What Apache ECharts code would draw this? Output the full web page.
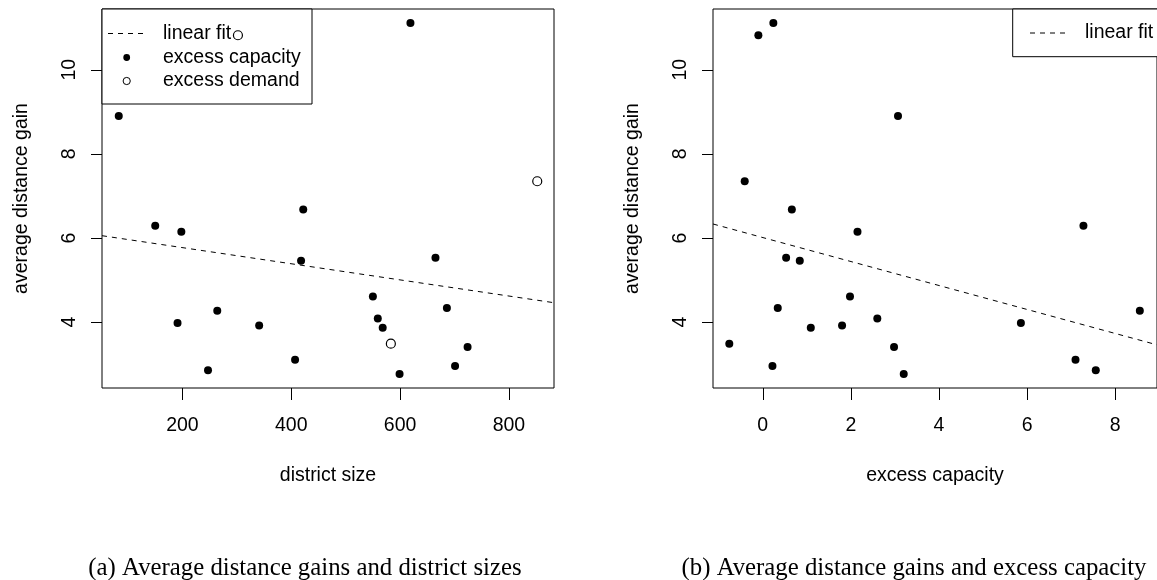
<!DOCTYPE html>
<html>
<head>
<meta charset="utf-8">
<script src="https://cdn.jsdelivr.net/npm/echarts@6/dist/echarts.min.js"></script>
<style>
html,body{margin:0;padding:0;background:#fff;}
#chart{width:1157px;height:580px;}
</style>
</head>
<body>
<div id="chart"></div>
<script>
// ---- data (one entry per district) ----
var districtSize   = [83, 619, 150, 198, 422, 418, 665, 550, 686, 264, 191, 341, 559, 568, 724, 407, 701, 247, 599, 583, 852, 302];
var excessCapacity = [3.07, 0.24, 7.28, 2.15, 0.66, 0.84, 0.53, 1.98, 0.34, 8.56, 5.86, 1.80, 2.60, 1.09, 2.98, 7.10, 0.22, 7.56, 3.20, -0.76, -0.41, -0.10];
var avgGain        = [8.90, 11.11, 6.29, 6.15, 6.68, 5.46, 5.53, 4.61, 4.34, 4.27, 3.98, 3.92, 4.09, 3.87, 3.41, 3.11, 2.96, 2.86, 2.77, 3.49, 7.35, 10.82];
var districtType   = ['cap','cap','cap','cap','cap','cap','cap','cap','cap','cap','cap','cap','cap','cap','cap','cap','cap','cap','cap','dem','dem','dem'];

// linear fit lines (end points)
var fitSize     = [52.2, 882.8];
var fitSizeGain = [6.056, 4.463];
var fitCap      = [-1.13, 8.95];
var fitCapGain  = [6.334, 3.462];

// tick labels
var sizeTicks = [200, 400, 600, 800];
var capTicks  = [0, 2, 4, 6, 8];
var gainTicks = [4, 6, 8, 10];

var captionA = '(a) Average distance gains and district sizes';
var captionB = '(b) Average distance gains and excess capacity';

// ---- build ----
var capPts = [], demPts = [], allPts = [];
for (var i = 0; i < districtSize.length; i++) {
  if (districtType[i] === 'cap') capPts.push([districtSize[i], avgGain[i]]);
  else demPts.push([districtSize[i], avgGain[i]]);
  allPts.push([excessCapacity[i], avgGain[i]]);
}
var fitA = [[fitSize[0], fitSizeGain[0]], [fitSize[1], fitSizeGain[1]]];
var fitB = [[fitCap[0], fitCapGain[0]], [fitCap[1], fitCapGain[1]]];

var FONT = 'Liberation Sans';
var FS = 19.5;

function xAxisCfg(gi, min, max, ticks, name) {
  return {
    type: 'value', gridIndex: gi, min: min, max: max,
    name: name, nameLocation: 'middle', nameGap: 78,
    nameTextStyle: {fontFamily: FONT, fontSize: FS, color: '#000'},
    axisLine: {show: false, onZero: false},
    axisTick: {show: true, length: 12, customValues: ticks, lineStyle: {color: '#000', width: 1}},
    axisLabel: {customValues: ticks, fontFamily: FONT, fontSize: FS, color: '#000', margin: 28},
    splitLine: {show: false}
  };
}
function yAxisCfg(gi) {
  return {
    type: 'value', gridIndex: gi, min: 2.436, max: 11.444,
    name: 'average distance gain', nameLocation: 'middle', nameGap: 70,
    nameTextStyle: {fontFamily: FONT, fontSize: FS, color: '#000'},
    axisLine: {show: false, onZero: false},
    axisTick: {show: true, length: 11, customValues: gainTicks, lineStyle: {color: '#000', width: 1}},
    axisLabel: {customValues: gainTicks, rotate: 90, fontFamily: FONT, fontSize: FS, color: '#000', margin: 22},
    splitLine: {show: false}
  };
}

var chart = echarts.init(document.getElementById('chart'), null, {renderer: 'canvas'});
var option = {
  animation: false,
  backgroundColor: '#fff',
  grid: [
    {left: 102, top: 9, width: 452, height: 379, show: true, borderColor: '#000', borderWidth: 1, backgroundColor: 'transparent'},
    {left: 713, top: 9, width: 452, height: 379, show: true, borderColor: '#000', borderWidth: 1, backgroundColor: 'transparent'}
  ],
  xAxis: [
    xAxisCfg(0, 52.2, 882.8, sizeTicks, 'district size'),
    xAxisCfg(1, -1.13, 8.95, capTicks, 'excess capacity')
  ],
  yAxis: [yAxisCfg(0), yAxisCfg(1)],
  graphic: [
    // legend (a)
    {type: 'rect', z: 1, shape: {x: 102, y: 9, width: 210, height: 95}, style: {fill: '#fff', stroke: '#000', lineWidth: 1}},
    {type: 'line', z: 1, shape: {x1: 108, y1: 33.5, x2: 144, y2: 33.5}, style: {stroke: '#000', lineWidth: 1, lineDash: [5, 5]}},
    {type: 'circle', z: 1, shape: {cx: 126.7, cy: 57.5, r: 3.4}, style: {fill: '#000'}},
    {type: 'circle', z: 1, shape: {cx: 126.7, cy: 81, r: 3.6}, style: {fill: 'none', stroke: '#000', lineWidth: 1}},
    {type: 'text', z: 1, x: 163, y: 33.5, style: {text: 'linear fit', font: FS + 'px ' + FONT, fill: '#000', verticalAlign: 'middle'}},
    {type: 'text', z: 1, x: 163, y: 57.5, style: {text: 'excess capacity', font: FS + 'px ' + FONT, fill: '#000', verticalAlign: 'middle'}},
    {type: 'text', z: 1, x: 163, y: 81, style: {text: 'excess demand', font: FS + 'px ' + FONT, fill: '#000', verticalAlign: 'middle'}},
    // legend (b)
    {type: 'rect', z: 1, shape: {x: 1012.7, y: 9, width: 220, height: 47.7}, style: {fill: '#fff', stroke: '#000', lineWidth: 1}},
    {type: 'line', z: 1, shape: {x1: 1030, y1: 33, x2: 1066, y2: 33}, style: {stroke: '#000', lineWidth: 1, lineDash: [5, 5]}},
    {type: 'text', z: 1, x: 1085, y: 33, style: {text: 'linear fit', font: FS + 'px ' + FONT, fill: '#000', verticalAlign: 'middle'}},
    // captions
    {type: 'text', x: 305, y: 568, style: {text: captionA, font: '24.8px "Liberation Serif"', fill: '#000', align: 'center', verticalAlign: 'middle'}},
    {type: 'text', x: 914, y: 568, style: {text: captionB, font: '24.8px "Liberation Serif"', fill: '#000', align: 'center', verticalAlign: 'middle'}}
  ],
  series: [
    {type: 'line', xAxisIndex: 0, yAxisIndex: 0, data: fitA, symbol: 'none', z: 3,
     lineStyle: {color: '#000', width: 1, type: [5, 5]}},
    {type: 'scatter', xAxisIndex: 0, yAxisIndex: 0, data: capPts, symbol: 'circle', symbolSize: 8, z: 4,
     itemStyle: {color: '#000', opacity: 1}},
    {type: 'scatter', xAxisIndex: 0, yAxisIndex: 0, data: demPts, symbol: 'circle', symbolSize: 9, z: 5,
     itemStyle: {color: 'rgba(255,255,255,0)', borderColor: '#000', borderWidth: 1.2, opacity: 1}},
    {type: 'line', xAxisIndex: 1, yAxisIndex: 1, data: fitB, symbol: 'none', z: 3,
     lineStyle: {color: '#000', width: 1, type: [5, 5]}},
    {type: 'scatter', xAxisIndex: 1, yAxisIndex: 1, data: allPts, symbol: 'circle', symbolSize: 8, z: 4,
     itemStyle: {color: '#000', opacity: 1}}
  ]
};
chart.setOption(option);
</script>
</body>
</html>
